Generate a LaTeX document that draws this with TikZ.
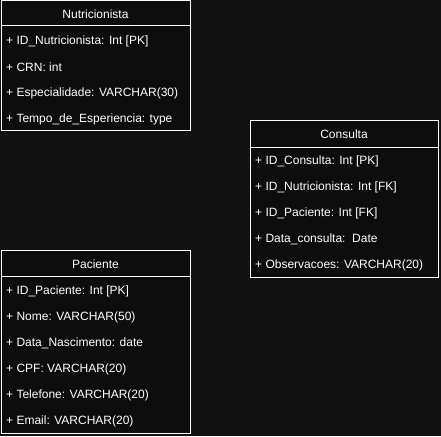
\documentclass[tikz,border=0pt]{standalone}
\usepackage{fontspec}
\setmainfont{Liberation Sans}
\begin{document}
\begin{tikzpicture}[x=1pt,y=-1pt,
  every node/.style={text=white, font=\fontsize{12}{14}\selectfont, inner sep=0pt},
  tablebox/.style={draw=white, line width=1pt, fill=black!95},
  header/.style={anchor=center},
  field/.style={anchor=west}]
\definecolor{canvas}{RGB}{18,18,18}
\fill[canvas] (0,0) rectangle (441,436);
\useasboundingbox (0,0) rectangle (441,436);

% Nutricionista
\draw[tablebox] (1,1) rectangle (190,130);
\draw[white, line width=1pt] (1,26) -- (190,26);
\node[header] (nut) at (95.5,14) {Nutricionista};
\node[field] (nut1) at (6,41) {+ ID\_Nutricionista: Int [PK]};
\node[field] (nut2) at (6,67) {+ CRN: int};
\node[field] (nut3) at (6,93) {+ Especialidade: VARCHAR(30)};
\node[field] (nut4) at (6,119) {+ Tempo\_de\_Esperiencia: type};

% Consulta
\draw[tablebox] (250,120) rectangle (438.5,277);
\draw[white, line width=1pt] (250,147) -- (438.5,147);
\node[header] (con) at (344,134) {Consulta};
\node[field] (con1) at (255,161) {+ ID\_Consulta: Int [PK]};
\node[field] (con2) at (255,187) {+ ID\_Nutricionista: Int [FK]};
\node[field] (con3) at (255,213) {+ ID\_Paciente: Int [FK]};
\node[field] (con4) at (255,239) {+ Data\_consulta:\ \ Date};
\node[field] (con5) at (255,265) {+ Observacoes: VARCHAR(20)};

% Paciente
\draw[tablebox] (1,250) rectangle (190,433);
\draw[white, line width=1pt] (1,276.5) -- (190,276.5);
\node[header] (pac) at (95.5,264) {Paciente};
\node[field] (pac1) at (6,291) {+ ID\_Paciente: Int [PK]};
\node[field] (pac2) at (6,317) {+ Nome: VARCHAR(50)};
\node[field] (pac3) at (6,343) {+ Data\_Nascimento: date};
\node[field] (pac4) at (6,369) {+ CPF: VARCHAR(20)};
\node[field] (pac5) at (6,395) {+ Telefone: VARCHAR(20)};
\node[field] (pac6) at (6,421) {+ Email: VARCHAR(20)};
\end{tikzpicture}
\end{document}
